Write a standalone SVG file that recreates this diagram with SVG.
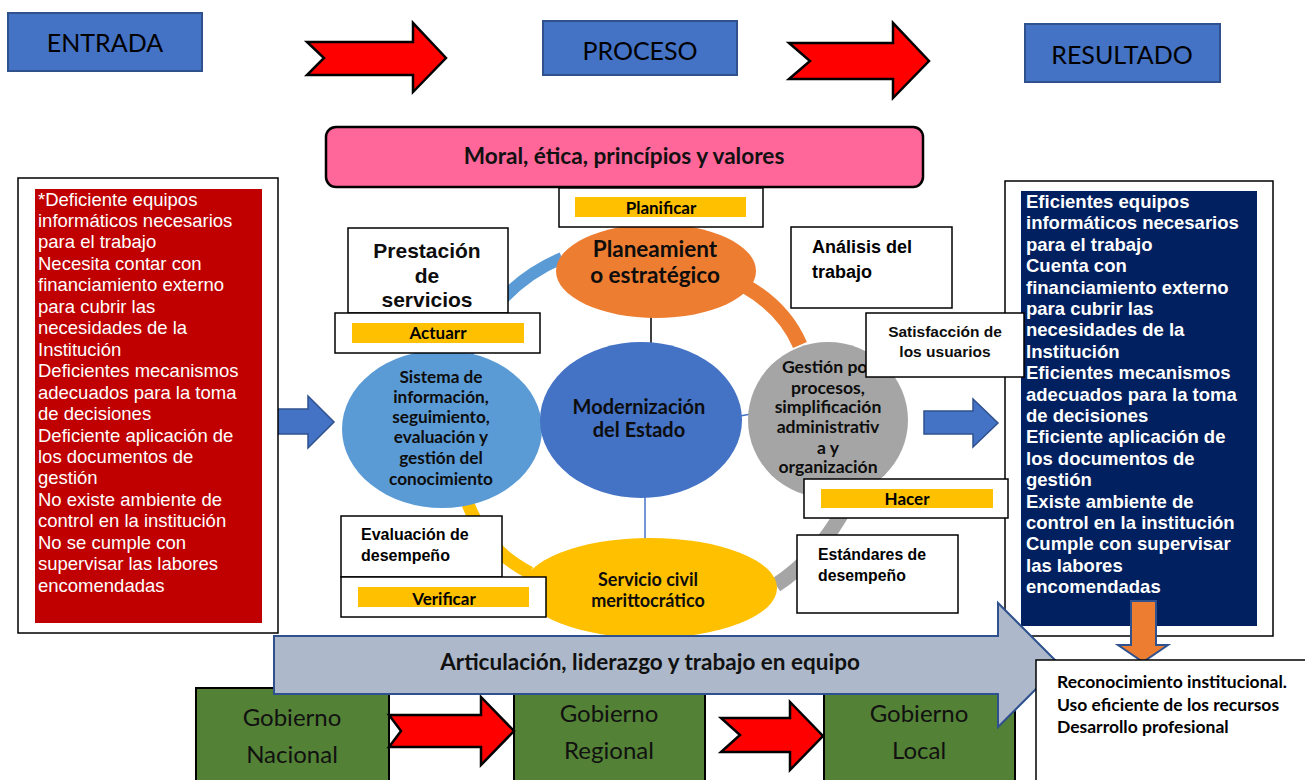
<svg xmlns="http://www.w3.org/2000/svg" width="1305" height="780" viewBox="0 0 1305 780">
<style>
.cal{font-family:Lato,"Liberation Sans",sans-serif}
.ar{font-family:"Liberation Sans",Arial,sans-serif}
.hdr{fill:#4472C4;stroke:#2F528F;stroke-width:2}
.hdrt{font-size:25px;fill:#000;text-anchor:middle}
.red{fill:#FF0000;stroke:#000;stroke-width:2.5;stroke-linejoin:miter}
.bl{fill:#4472C4;stroke:#2F528F;stroke-width:1.5}
.wb{fill:#fff;stroke:#000;stroke-width:1.5}
.yb{fill:#FFC000}
.yt{font-size:17px;font-weight:bold;fill:#000;text-anchor:middle}
.ct{font-weight:bold;fill:#0d0d0d;text-anchor:middle}
.lt{font-size:18.5px;fill:#fff}
.gt{font-size:24px;fill:#111;text-anchor:middle}
.arc{fill:none;stroke-linecap:butt}
</style>

<g id="connectors">
  <path class="arc" d="M 468 352 Q 498 285 562 258" stroke="#5B9BD5" stroke-width="12"/>
  <path class="arc" d="M 745 286 Q 784 308 800 345" stroke="#ED7D31" stroke-width="15"/>
  <path class="arc" d="M 850 498 Q 822 555 776 585" stroke="#A5A5A5" stroke-width="15"/>
  <path class="arc" d="M 466 498 Q 482 548 530 573" stroke="#FFC000" stroke-width="13"/>
  <line x1="651" y1="316" x2="651" y2="345" stroke="#000" stroke-width="1.5"/>
  <line x1="645" y1="496" x2="645" y2="540" stroke="#4472C4" stroke-width="1.5"/>
  <line x1="517" y1="423" x2="545" y2="423" stroke="#4472C4" stroke-width="1.5"/>
  <line x1="740" y1="416" x2="762" y2="412" stroke="#4472C4" stroke-width="1.5"/>
  <polygon class="red" points="307,42 413,42 413,23 446,58 413,92 413,75 307,75 324,58"/>
  <polygon class="red" points="789,43 893,43 893,23 929,61 893,98 893,79 789,79 810,61"/>
  <polygon class="bl" points="277,409 308,409 308,396 334,422 308,448 308,434 277,434"/>
  <polygon class="bl" points="924,411 973,411 973,399 998,423 973,447 973,434 924,434"/>
</g>

<g id="entrada"><rect class="hdr" x="8" y="13" width="194" height="58"/><text class="cal hdrt" x="105" y="52">ENTRADA</text></g>
<g id="proceso"><rect class="hdr" x="543" y="21" width="194" height="54"/><text class="cal hdrt" x="640" y="60">PROCESO</text></g>
<g id="resultado"><rect class="hdr" x="1025" y="24" width="195" height="58"/><text class="cal hdrt" x="1122" y="64">RESULTADO</text></g>

<g id="entrada-list">
  <rect class="wb" x="18" y="178" width="260" height="455"/>
  <rect x="35" y="189" width="227" height="434" fill="#C00000"/>
  <text class="ar lt">
    <tspan x="38" y="205.5">*Deficiente equipos</tspan>
    <tspan x="38" y="227">informáticos necesarios</tspan>
    <tspan x="38" y="248.4">para el trabajo</tspan>
    <tspan x="38" y="269.9">Necesita contar con</tspan>
    <tspan x="38" y="291.3">financiamiento externo</tspan>
    <tspan x="38" y="312.8">para cubrir las</tspan>
    <tspan x="38" y="334.2">necesidades de la</tspan>
    <tspan x="38" y="355.7">Institución</tspan>
    <tspan x="38" y="377.1">Deficientes mecanismos</tspan>
    <tspan x="38" y="398.6">adecuados para la toma</tspan>
    <tspan x="38" y="420">de decisiones</tspan>
    <tspan x="38" y="441.5">Deficiente aplicación de</tspan>
    <tspan x="38" y="462.9">los documentos de</tspan>
    <tspan x="38" y="484.4">gestión</tspan>
    <tspan x="38" y="505.8">No existe ambiente de</tspan>
    <tspan x="38" y="527.3">control en la institución</tspan>
    <tspan x="38" y="548.7">No se cumple con</tspan>
    <tspan x="38" y="570.2">supervisar las labores</tspan>
    <tspan x="38" y="591.6">encomendadas</tspan>
  </text>
</g>

<g id="resultado-list">
  <rect class="wb" x="1005" y="181" width="268" height="455"/>
  <rect x="1021" y="191" width="236" height="435" fill="#002060"/>
  <text class="ar lt" font-weight="bold">
    <tspan x="1026" y="208">Eficientes equipos</tspan>
    <tspan x="1026" y="229.4">informáticos necesarios</tspan>
    <tspan x="1026" y="250.8">para el trabajo</tspan>
    <tspan x="1026" y="272.2">Cuenta con</tspan>
    <tspan x="1026" y="293.6">financiamiento externo</tspan>
    <tspan x="1026" y="315">para cubrir las</tspan>
    <tspan x="1026" y="336.4">necesidades de la</tspan>
    <tspan x="1026" y="357.8">Institución</tspan>
    <tspan x="1026" y="379.2">Eficientes mecanismos</tspan>
    <tspan x="1026" y="400.6">adecuados para la toma</tspan>
    <tspan x="1026" y="422">de decisiones</tspan>
    <tspan x="1026" y="443.4">Eficiente aplicación de</tspan>
    <tspan x="1026" y="464.8">los documentos de</tspan>
    <tspan x="1026" y="486.2">gestión</tspan>
    <tspan x="1026" y="507.6">Existe ambiente de</tspan>
    <tspan x="1026" y="529">control en la institución</tspan>
    <tspan x="1026" y="550.4">Cumple con supervisar</tspan>
    <tspan x="1026" y="571.8">las labores</tspan>
    <tspan x="1026" y="593.2">encomendadas</tspan>
  </text>
</g>

<g id="planeamiento"><ellipse cx="656" cy="271" rx="100" ry="47" fill="#ED7D31"/>
  <text class="cal ct" font-size="22.5"><tspan x="655" y="257">Planeamient</tspan><tspan x="655" y="283">o estratégico</tspan></text></g>
<g id="sistema"><ellipse cx="442" cy="429" rx="100" ry="79" fill="#5B9BD5"/>
  <text class="cal ct" font-size="17.2"><tspan x="441" y="383">Sistema de</tspan><tspan x="441" y="403">información,</tspan><tspan x="441" y="423">seguimiento,</tspan><tspan x="441" y="443">evaluación y</tspan><tspan x="441" y="464">gestión del</tspan><tspan x="441" y="485">conocimiento</tspan></text></g>
<g id="modernizacion"><ellipse cx="641" cy="420" rx="101" ry="78" fill="#4472C4"/>
  <text class="cal ct" font-size="20"><tspan x="639" y="414">Modernización</tspan><tspan x="639" y="437">del Estado</tspan></text></g>
<g id="gestion"><ellipse cx="828" cy="420" rx="80" ry="78" fill="#A5A5A5"/>
  <text class="cal ct" font-size="17.6"><tspan x="828" y="373">Gestión por</tspan><tspan x="828" y="394">procesos,</tspan><tspan x="828" y="413">simplificación</tspan><tspan x="828" y="433">administrativ</tspan><tspan x="828" y="454">a y</tspan><tspan x="828" y="473">organización</tspan></text></g>
<g id="servicio"><ellipse cx="650" cy="588" rx="127" ry="50" fill="#FFC000"/>
  <text class="cal ct" font-size="18"><tspan x="648" y="586">Servicio civil</tspan><tspan x="648" y="607">merittocrático</tspan></text></g>

<g id="moral"><rect x="326" y="127" width="597" height="60" rx="10" fill="#FF6699" stroke="#000" stroke-width="2.5"/>
  <text class="cal" x="624" y="164" font-size="22.6" font-weight="bold" text-anchor="middle" fill="#111">Moral, ética, princípios y valores</text></g>
<g id="planificar"><rect class="wb" x="559" y="188" width="204" height="39"/><rect class="yb" x="575" y="197" width="171" height="20"/><text class="cal yt" x="661" y="214">Planificar</text></g>
<g id="prestacion"><rect class="wb" x="348" y="228" width="160" height="85"/>
  <text class="ar ct" font-size="21"><tspan x="427" y="258">Prestación</tspan><tspan x="427" y="283">de</tspan><tspan x="427" y="307">servicios</tspan></text></g>
<g id="actuar"><rect class="wb" x="335" y="313" width="205" height="40"/><rect class="yb" x="352" y="323" width="172" height="20"/><text class="cal yt" x="438" y="339">Actuarr</text></g>
<g id="analisis"><rect class="wb" x="791" y="227" width="161" height="81"/>
  <text class="ar" font-size="18" font-weight="bold" fill="#000"><tspan x="812" y="253">Análisis del</tspan><tspan x="812" y="278">trabajo</tspan></text></g>
<g id="satisfaccion"><rect class="wb" x="866" y="313" width="158" height="64"/>
  <text class="ar ct" font-size="15.5"><tspan x="945" y="337">Satisfacción de</tspan><tspan x="945" y="357">los usuarios</tspan></text></g>
<g id="hacer"><rect class="wb" x="804" y="479" width="204" height="39"/><rect class="yb" x="821" y="489" width="172" height="19"/><text class="cal yt" x="907" y="505">Hacer</text></g>
<g id="evaluacion"><rect class="wb" x="341" y="516" width="161" height="61"/>
  <text class="ar" font-size="16" font-weight="bold" fill="#000"><tspan x="361" y="540">Evaluación de</tspan><tspan x="361" y="561">desempeño</tspan></text></g>
<g id="verificar"><rect class="wb" x="341" y="577" width="205" height="40"/><rect class="yb" x="358" y="587" width="171" height="20"/><text class="cal yt" x="444" y="605">Verificar</text></g>
<g id="estandares"><rect class="wb" x="797" y="535" width="161" height="78"/>
  <text class="ar" font-size="15.8" font-weight="bold" fill="#000"><tspan x="818" y="560">Estándares de</tspan><tspan x="818" y="581">desempeño</tspan></text></g>

<g id="gob-nacional"><rect x="196" y="688" width="193" height="100" fill="#538135" stroke="#000" stroke-width="2"/>
  <text class="cal gt"><tspan x="292" y="726">Gobierno</tspan><tspan x="292" y="763">Nacional</tspan></text></g>
<g id="gob-regional"><rect x="514" y="688" width="191" height="100" fill="#538135" stroke="#000" stroke-width="2"/>
  <text class="cal gt"><tspan x="609" y="722">Gobierno</tspan><tspan x="609" y="759">Regional</tspan></text></g>
<g id="gob-local"><rect x="824" y="688" width="191" height="100" fill="#538135" stroke="#000" stroke-width="2"/>
  <text class="cal gt"><tspan x="919" y="722">Gobierno</tspan><tspan x="919" y="759">Local</tspan></text></g>
<g id="bottom-arrows">
  <polygon class="red" points="389,715 481,715 481,697 514,731 481,765 481,747 389,747 401,731"/>
  <polygon class="red" points="721,718 790,718 790,702 823,736 790,770 790,752 721,752 740,735"/>
</g>

<g id="articulacion"><polygon points="274,636 998,636 998,603 1060,665 998,727 998,694 274,694" fill="#ADB9CA" stroke="#2F528F" stroke-width="2"/>
  <text class="cal" x="650" y="670" font-size="22.5" font-weight="bold" text-anchor="middle" fill="#111">Articulación, liderazgo y trabajo en equipo</text></g>

<g id="down-arrow"><polygon points="1131,601 1156,601 1156,645 1168,645 1143,662 1118,645 1131,645" fill="#ED7D31" stroke="#2F528F" stroke-width="2"/></g>

<g id="reconocimiento"><rect x="1036" y="660" width="275" height="125" fill="#fff" stroke="#000" stroke-width="1.5"/>
  <text class="cal" font-size="17.5" font-weight="bold" fill="#000"><tspan x="1057" y="688">Reconocimiento institucional.</tspan><tspan x="1057" y="711">Uso eficiente de los recursos</tspan><tspan x="1057" y="733">Desarrollo profesional</tspan></text></g>
</svg>
